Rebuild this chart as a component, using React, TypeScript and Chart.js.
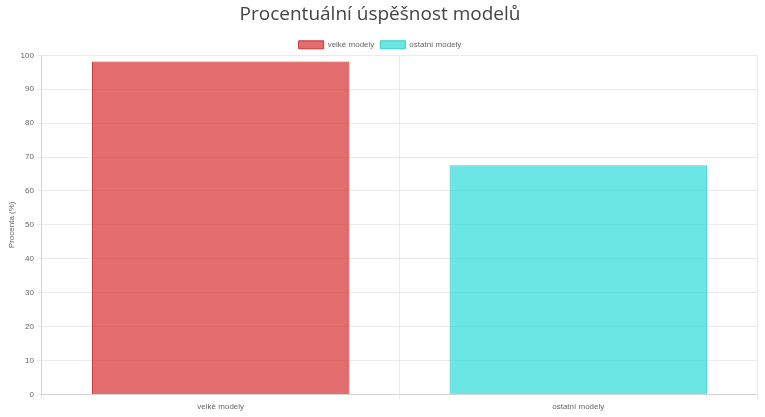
import { useEffect, useRef } from 'react';
import { Chart, registerables } from 'chart.js';

Chart.register(...registerables);

const categories = ['velké modely', 'ostatní modely'];
const bigModels = [98.2, null];
const otherModels = [null, 67.6];

// legend box reserves a fixed 10px below the items; trim it a little
const tightLegend = {
  id: 'tightLegend',
  beforeUpdate(chart: any) {
    const legend = chart.legend;
    if (!legend || legend._tight) return;
    const fit = legend.fit.bind(legend);
    legend.fit = () => {
      fit();
      legend.height -= 3.5;
    };
    legend._tight = true;
  },
};

export default function App() {
  const canvasRef = useRef<HTMLCanvasElement>(null);

  useEffect(() => {
    document.body.style.margin = '0';
    if (!canvasRef.current) return;
    const ctx = canvasRef.current.getContext('2d');
    if (!ctx) return;

    const chart = new Chart(ctx, {
      type: 'bar',
      data: {
        labels: categories,
        datasets: [
          {
            label: 'velké modely',
            data: bigModels,
            backgroundColor: 'rgba(217, 48, 48, 0.7)',
            borderColor: 'rgba(200, 40, 40, 0.9)',
            borderWidth: 1,
          },
          {
            label: 'ostatní modely',
            data: otherModels,
            backgroundColor: 'rgba(45, 219, 216, 0.7)',
            borderColor: 'rgba(40, 200, 200, 0.9)',
            borderWidth: 1,
          },
        ],
      },
      options: {
        animation: false,
        responsive: true,
        maintainAspectRatio: false,
        grouped: false,
        layout: { padding: { left: 3, right: 8, top: 3, bottom: 2 } },
        font: { family: "'Liberation Sans', Arial, sans-serif", size: 8 },
        plugins: {
          title: {
            display: true,
            text: 'Procentuální úspěšnost modelů',
            font: { family: "'Open Sans', sans-serif", size: 19, weight: 500 },
            color: '#444',
            padding: { top: 0, bottom: 9 },
          },
          legend: {
            labels: {
              boxWidth: 25,
              boxHeight: 8,
              padding: 6,
              font: { size: 8, lineHeight: 1 },
              color: '#666',
            },
          },
          tooltip: { enabled: false },
        },
        scales: {
          x: {
            ticks: { color: '#666', font: { size: 8 } },
            grid: { color: 'rgba(0,0,0,0.08)', tickLength: 5 },
          },
          y: {
            min: 0,
            max: 100,
            ticks: { stepSize: 10, color: '#666', font: { size: 8 } },
            grid: { color: 'rgba(0,0,0,0.08)', tickLength: 5 },
            title: {
              display: true,
              text: 'Procenta (%)',
              color: '#666',
              font: { size: 8 },
              padding: { top: 4, bottom: 1 },
            },
          },
        },
      } as any,
      plugins: [tightLegend],
    });

    return () => chart.destroy();
  }, []);

  return (
    <div style={{ position: 'fixed', top: 0, left: 0, width: 765, height: 417 }}>
      <canvas ref={canvasRef} />
    </div>
  );
}
